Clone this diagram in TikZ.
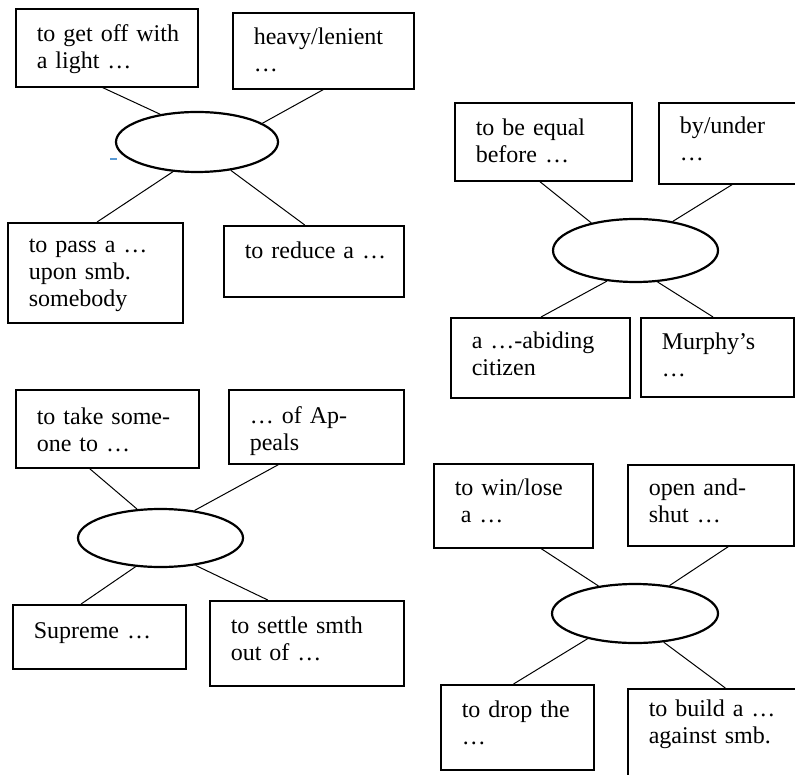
\documentclass[tikz,border=0pt]{standalone}
\usepackage{fontspec}
\setmainfont{Liberation Serif}
\usetikzlibrary{shapes.geometric}

\definecolor{markblue}{RGB}{91,155,213}

\tikzset{
    card/.style={draw, line width=0.8pt, anchor=north west,
        inner xsep=10.5pt, inner ysep=0pt,
        font=\fontsize{12}{13.5}\selectfont},
    hub/.style={draw, ellipse, line width=1.1pt, inner sep=0pt,
        minimum width=82pt, minimum height=30pt},
    spoke/.style={line width=0.5pt}
}

\begin{document}
\begin{tikzpicture}[x=0.5pt, y=-0.5pt]
                \useasboundingbox (0,0) rectangle (795,774);
                \clip (0,0) rectangle (795,774);

                % sentence
                \node[hub, minimum width=81pt] (sentence) at (197,142) {};
                \node[card, text width=70pt, text height=16.5pt, text depth=22.5pt]
                    (light) at (15,8) {\mbox{to get off with}\\a light …};
                \node[card, text width=69.5pt, text height=16pt, text depth=22pt]
                    (heavy) at (232,12) {heavy/lenient\\…};
                \node[card, text width=66.5pt, text height=15pt, text depth=35pt]
                    (pass) at (7,222) {to pass a …\\upon smb.\\somebody};
                \node[card, text width=69pt, text height=16.5pt, text depth=19pt]
                    (reduce) at (223,225) {\mbox{to reduce a …}};
                \draw[spoke] (light.264) -- (sentence.143);
                \draw[spoke] (heavy.270) -- (sentence.16);
                \draw[spoke] (pass.88) -- (sentence.231);
                \draw[spoke] (reduce.104) -- (sentence.-40);
                \draw[markblue, line width=0.6pt] (110,159) -- (117,159);

                % law
                \node[hub, minimum width=82.5pt, minimum height=31.5pt] (law) at (635.5,250.5) {};
                \node[card, text width=67.5pt, text height=16.5pt, text depth=22.5pt]
                    (equal) at (454,102) {to be equal\\before …};
                \node[card, text width=65pt, text height=15.5pt, text depth=25pt]
                    (byunder) at (658,102) {by/under\\…};
                \node[card, text width=68.5pt, text height=15.5pt, text depth=24.5pt]
                    (abiding) at (450,317) {\mbox{a …-abiding}\\citizen};
                \node[card, text width=55.5pt, text height=16pt, text depth=23.5pt]
                    (murphy) at (640,317) {Murphy’s\\…};
                \draw[spoke] (equal.265) -- (law.148);
                \draw[spoke] (byunder.253) -- (law.38);
                \draw[spoke] (abiding.89) -- (law.227);
                \draw[spoke] (murphy.96) -- (law.-55);

                % court
                \node[hub, minimum width=82.5pt, minimum height=29pt] (court) at (160.5,538) {};
                \node[card, text width=70.5pt, text height=17.5pt, text depth=21.5pt]
                    (takeone) at (15,389) {\mbox{to take some-}\\one to …};
                \node[card, text width=66.5pt, text height=17pt, text depth=20pt]
                    (appeals) at (228,389) {… of Ap-\\peals};
                \node[card, text width=65.5pt, text height=17pt, text depth=15pt]
                    (supreme) at (12,604) {Supreme …};
                \node[card, text width=76pt, text height=16.5pt, text depth=26pt]
                    (settle) at (209,600) {to settle smth\\out of …};
                \draw[spoke] (takeone.246) -- (court.129);
                \draw[spoke] (appeals.225) -- (court.39);
                \draw[spoke] (supreme.119) -- (court.229);
                \draw[spoke] (settle.132) -- (court.-38);

                % case
                \node[hub, minimum width=83pt, minimum height=29.5pt] (case) at (635,613.5) {};
                \node[card, text width=58.5pt, text height=16pt, text depth=26pt]
                    (winlose) at (433,463) {\mbox{to win/lose}\\\hspace*{0.25em}a …};
                \node[card, text width=62pt, text height=15.5pt, text depth=25pt]
                    (openshut) at (627,464) {open and-\\shut …};
                \node[card, text width=55.5pt, text height=16.5pt, text depth=26pt]
                    (drop) at (440,684) {\mbox{to drop the}\\…};
                \node[card, text width=80.5pt, text height=14pt, text depth=42pt]
                    (build) at (627,688) {to build a …\\against smb.};
                \draw[spoke] (winlose.-57) -- (case.143);
                \draw[spoke] (openshut.-67) -- (case.39);
                \draw[spoke] (drop.95) -- (case.208);
                \draw[spoke] (build.94) -- (case.-45);
\end{tikzpicture}
\end{document}
